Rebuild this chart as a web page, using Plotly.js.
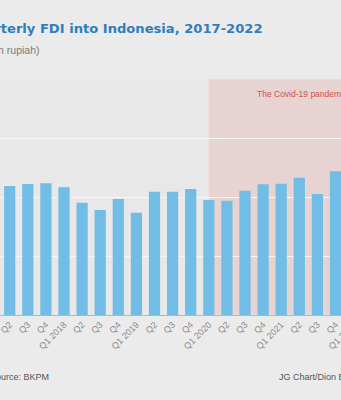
<!DOCTYPE html>
<html>
<head>
<meta charset="utf-8">
<script src="https://cdn.plot.ly/plotly-3.0.1.min.js"></script>
<style>
html, body { margin:0; padding:0; overflow:hidden; background:#ebebeb; }
#chart { position:absolute; left:0; top:0; width:380px; height:400px; }
</style>
</head>
<body>
<div id="chart"></div>
<script>
// Quarters shown (unique keys), their tick labels, and FDI values (trillion rupiah)
const quarters = ['2017 Q2','2017 Q3','2017 Q4','2018 Q1','2018 Q2','2018 Q3','2018 Q4',
  '2019 Q1','2019 Q2','2019 Q3','2019 Q4','2020 Q1','2020 Q2','2020 Q3','2020 Q4',
  '2021 Q1','2021 Q2','2021 Q3','2021 Q4','2022 Q1'];
const tickLabels = ['Q2','Q3','Q4','Q1 2018','Q2','Q3','Q4','Q1 2019','Q2','Q3','Q4',
  'Q1 2020','Q2','Q3','Q4','Q1 2021','Q2','Q3','Q4','Q1 2022'];
const fdi = [109.3, 111.0, 111.6, 108.2, 95.2, 89.0, 98.3, 86.7, 104.5, 104.5, 106.8,
  97.5, 96.9, 105.3, 110.8, 111.3, 116.4, 102.5, 121.8, null];
const covidStart = '2020 Q1';
const yTicks = [0, 50, 100, 150, 200];

const W = 380, plotTop = 79, plotBottom = 315, H = 400;
const ph = plotBottom - plotTop;
const px2x = p => p / W;
const py2y = p => (plotBottom - p) / ph;

const trace = {
  type: 'bar', x: quarters, y: fdi,
  marker: { color: '#72bde6' },
  hoverinfo: 'x+y'
};

const covidIdx = quarters.indexOf(covidStart);

const layout = {
  width: W, height: H,
  margin: { l: 0, r: 0, t: plotTop, b: H - plotBottom, pad: 0 },
  paper_bgcolor: '#ebebeb',
  plot_bgcolor: '#e8e8e8',
  showlegend: false,
  bargap: 0.38,
  font: { family: 'Liberation Sans, Arial, sans-serif', color: '#8a8a8a' },
  xaxis: {
    type: 'category',
    range: [-0.536, -0.536 + W / 18.1],
    tickmode: 'array', tickvals: quarters, ticktext: tickLabels,
    tickangle: -45, tickfont: { size: 9, color: '#8c8c8c' },
    showgrid: false, showline: true, linecolor: '#c4b2a8', linewidth: 1,
    ticks: '', fixedrange: true
  },
  yaxis: {
    range: [0, 200], tickvals: yTicks, showticklabels: false,
    showgrid: true, gridcolor: '#f6f6f6', gridwidth: 1,
    zeroline: false, fixedrange: true
  },
  shapes: [{
    type: 'rect', layer: 'below',
    xref: 'x', yref: 'paper',
    x0: covidIdx, x1: quarters.length + 2, y0: 0, y1: 1,
    fillcolor: '#e7d3d1', line: { width: 1, color: '#efe2e0' }
  }],
  annotations: [
    { xref: 'paper', yref: 'paper', x: px2x(265), y: py2y(29), xanchor: 'right', yanchor: 'middle',
      text: '<b>Quarterly FDI into Indonesia, 2017-2022</b>', showarrow: false,
      font: { size: 13.1, color: '#2f7dbd', family: 'DejaVu Sans, Verdana, sans-serif' } },
    { xref: 'paper', yref: 'paper', x: px2x(42), y: py2y(50), xanchor: 'right', yanchor: 'middle',
      text: '(trillion rupiah)', showarrow: false,
      font: { size: 10.5, color: '#7a7a7a' } },
    { xref: 'paper', yref: 'paper', x: px2x(255), y: py2y(94), xanchor: 'left', yanchor: 'middle',
      text: 'The Covid-19 pandemic', showarrow: false,
      font: { size: 8.5, color: '#d0524c' } },
    { xref: 'paper', yref: 'paper', x: px2x(51), y: py2y(377), xanchor: 'right', yanchor: 'middle',
      text: 'Source: BKPM', showarrow: false,
      font: { size: 9, color: '#555555' } },
    { xref: 'paper', yref: 'paper', x: px2x(277), y: py2y(377), xanchor: 'left', yanchor: 'middle',
      text: 'JG Chart/Dion Bisara', showarrow: false,
      font: { size: 9, color: '#555555' } }
  ]
};

Plotly.newPlot('chart', [trace], layout, { displayModeBar: false, staticPlot: true });
</script>
</body>
</html>
